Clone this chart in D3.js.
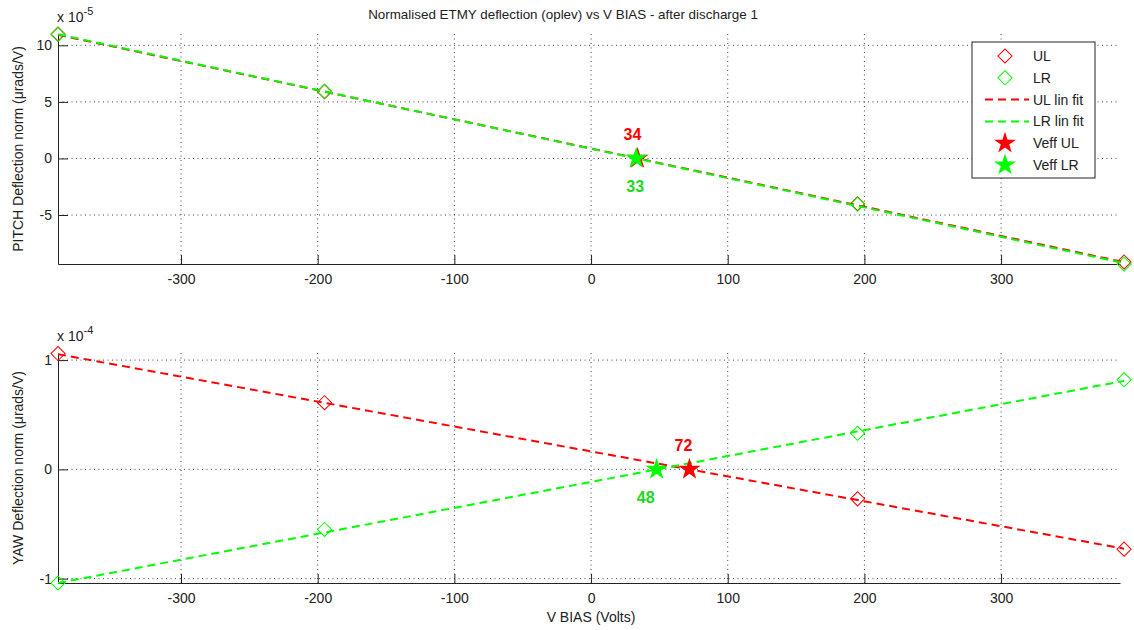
<!DOCTYPE html>
<html>
<head>
<meta charset="utf-8">
<script src="https://cdn.jsdelivr.net/npm/d3@7"></script>
<style>
  body { margin: 0; background: #fff; }
  svg { font-family: "Liberation Sans", Arial, sans-serif; }
  .tick text { fill: #222; }
</style>
</head>
<body>
<svg id="chart" width="1134" height="630"></svg>
<script>
// bias voltages of the measurements
var vBias = [-390, -195, 195, 390];
var xTicks = [-300, -200, -100, 0, 100, 200, 300];

// pitch (x 1e-5)
var pitchUL = [11.0, 5.9, -4.0, -9.15];
var pitchLR = [10.95, 5.95, -4.05, -9.33];
var pitchFitUL = [10.93, -9.17];
var pitchFitLR = [10.98, -9.26];
var pitchVeff = [34, 33];
var pitchTicks = [-5, 0, 5, 10];

// yaw (x 1e-4)
var yawUL = [1.06, 0.61, -0.27, -0.73];
var yawLR = [-1.04, -0.55, 0.33, 0.82];
var yawFitUL = [1.054, -0.726];
var yawFitLR = [-1.04, 0.81];
var yawVeff = [72, 48];
var yawTicks = [-1, 0, 1];

var fitX = [-390, 390];
var RED = "#ff0000", GREEN = "#00ff00";

var svg = d3.select("#chart");

var x = d3.scaleLinear().domain([-390, 387]).range([58, 1120]);
var plainFmt = function(d){ return String(d); };

svg.append("text").attr("x", 563).attr("y", 19).attr("text-anchor", "middle")
  .style("font-size", "13.4px").attr("fill", "#222")
  .text("Normalised ETMY deflection (oplev) vs V BIAS - after discharge 1");

function panel(top, bottom, ydom, yticks, ul, lr, fitUL, fitLR, veff, expo, ylabel, labelOff) {
  var y = d3.scaleLinear().domain(ydom).range([bottom, top]);
  var g = svg.append("g");

  // grid
  g.selectAll(".gx").data(xTicks).enter().append("line")
    .attr("x1", function(d){ return x(d); }).attr("x2", function(d){ return x(d); })
    .attr("y1", top).attr("y2", bottom)
    .attr("stroke", "#444").attr("stroke-dasharray", "1,3.5");
  g.selectAll(".gy").data(yticks).enter().append("line")
    .attr("x1", x.range()[0]).attr("x2", x.range()[1])
    .attr("y1", function(d){ return y(d); }).attr("y2", function(d){ return y(d); })
    .attr("stroke", "#444").attr("stroke-dasharray", "1,3.5");

  // axes
  var ax = g.append("g").attr("transform", "translate(0," + bottom + ")")
    .call(d3.axisBottom(x).tickValues(xTicks).tickFormat(plainFmt)
      .tickSizeInner(-9).tickSizeOuter(0).tickPadding(10));
  var ay = g.append("g").attr("transform", "translate(" + x.range()[0] + ",0)")
    .call(d3.axisLeft(y).tickValues(yticks).tickFormat(plainFmt)
      .tickSizeInner(-10).tickSizeOuter(0).tickPadding(6));
  [ax, ay].forEach(function(a){
    a.select(".domain").attr("stroke", "#222");
    a.selectAll(".tick line").attr("stroke", "#222");
    a.selectAll(".tick text").style("font-size", "14px").attr("font-family", "Liberation Sans, Arial, sans-serif");
  });

  // exponent
  var ex = g.append("text").attr("x", 57).attr("y", top - 12).attr("fill", "#222").style("font-size", "14px");
  ex.append("tspan").text("x 10");
  ex.append("tspan").attr("dy", -7).style("font-size", "11px").text(expo);

  svg.append("text").attr("transform", "translate(23," + ((top + bottom) / 2) + ") rotate(-90)")
    .attr("text-anchor", "middle").style("font-size", "14px").attr("fill", "#222").text(ylabel);

  var diamond = d3.symbol().type(d3.symbolSquare).size(100);
  function markers(vals, col) {
    g.selectAll(null).data(vals).enter().append("path")
      .attr("d", diamond)
      .attr("transform", function(d, i){ return "translate(" + x(vBias[i]) + "," + y(d) + ") rotate(45)"; })
      .attr("fill", "none").attr("stroke", col).attr("stroke-width", 1);
  }
  markers(ul, RED);
  markers(lr, GREEN);

  var line = d3.line().x(function(d, i){ return x(fitX[i]); }).y(function(d){ return y(d); });
  g.append("path").datum(fitUL).attr("d", line).attr("fill", "none")
    .attr("stroke", RED).attr("stroke-width", 2).attr("stroke-dasharray", "8,5");
  g.append("path").datum(fitLR).attr("d", line).attr("fill", "none")
    .attr("stroke", GREEN).attr("stroke-width", 2).attr("stroke-dasharray", "8,5");

  var star = d3.symbol().type(d3.symbolStar).size(150);
  [[veff[0], RED], [veff[1], GREEN]].forEach(function(s){
    g.append("path").attr("d", star)
      .attr("transform", "translate(" + x(s[0]) + "," + y(0) + ")")
      .attr("fill", s[1]);
  });

  g.append("text").attr("x", x(veff[0]) + labelOff[0]).attr("y", y(0) - 18)
    .attr("text-anchor", "middle").style("font-size", "16px").style("font-weight", "bold")
    .attr("fill", RED).text(veff[0]);
  g.append("text").attr("x", x(veff[1]) + labelOff[1]).attr("y", y(0) + 34)
    .attr("text-anchor", "middle").style("font-size", "16px").style("font-weight", "bold")
    .attr("fill", "#1ed81e").text(veff[1]);
}

panel(34, 264, [-9.33, 11], pitchTicks, pitchUL, pitchLR, pitchFitUL, pitchFitLR, pitchVeff,
  "-5", "PITCH Deflection norm (\u03bcrads/V)", [-5, -1]);
panel(353, 583, [-1.04, 1.065], yawTicks, yawUL, yawLR, yawFitUL, yawFitLR, yawVeff,
  "-4", "YAW Deflection norm (\u03bcrads/V)", [-6, -11]);

svg.append("text").attr("x", 591).attr("y", 622).attr("text-anchor", "middle")
  .style("font-size", "14px").attr("fill", "#222").text("V BIAS (Volts)");

// legend
var lg = svg.append("g");
lg.append("rect").attr("x", 972).attr("y", 42).attr("width", 123).attr("height", 136)
  .attr("fill", "#fff").attr("stroke", "#222");
var legendItems = [
  {label: "UL", type: "diamond", col: RED},
  {label: "LR", type: "diamond", col: GREEN},
  {label: "UL lin fit", type: "line", col: RED},
  {label: "LR lin fit", type: "line", col: GREEN},
  {label: "Veff UL", type: "star", col: RED},
  {label: "Veff LR", type: "star", col: GREEN}
];
legendItems.forEach(function(d, i){
  var yy = 56 + i * 21.8;
  if (d.type === "diamond") {
    lg.append("path").attr("d", d3.symbol().type(d3.symbolSquare).size(100))
      .attr("transform", "translate(1005," + yy + ") rotate(45)")
      .attr("fill", "none").attr("stroke", d.col);
  } else if (d.type === "line") {
    lg.append("line").attr("x1", 985).attr("x2", 1029).attr("y1", yy).attr("y2", yy)
      .attr("stroke", d.col).attr("stroke-width", 2).attr("stroke-dasharray", "8,5");
  } else {
    lg.append("path").attr("d", d3.symbol().type(d3.symbolStar).size(150))
      .attr("transform", "translate(1005," + yy + ")").attr("fill", d.col);
  }
  lg.append("text").attr("x", 1033).attr("y", yy + 5).style("font-size", "14px")
    .attr("fill", "#222").text(d.label);
});
</script>
</body>
</html>
